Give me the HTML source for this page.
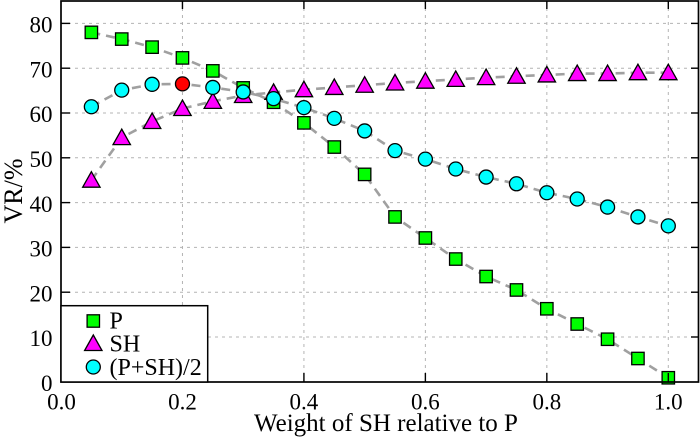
<!DOCTYPE html>
<html>
<head>
<meta charset="utf-8">
<style>
  html,body{margin:0;padding:0;background:#fff;}
  svg{display:block;}
  text{font-family:"Liberation Serif","Times New Roman",serif;fill:#000;}
</style>
</head>
<body>
<svg width="700" height="438" viewBox="0 0 700 438" xmlns="http://www.w3.org/2000/svg">
  <defs>
    <rect id="sq" x="-6.2" y="-6.2" width="12.4" height="12.4" fill="#00ff00" stroke="#000" stroke-width="1.3"/>
    <polygon id="tri" points="0,-8.5 -8.7,7 8.7,7" fill="#ff00ff" stroke="#000" stroke-width="1.3" stroke-linejoin="miter"/>
    <circle id="cir" r="7" fill="#00ffff" stroke="#000" stroke-width="1.3"/>
  </defs>

  <rect x="0" y="0" width="700" height="438" fill="#fff"/>

  <!-- grid -->
  <g stroke="#b4b4b4" stroke-width="1" stroke-dasharray="3,4" fill="none">
    <line x1="61" y1="337.0" x2="698.5" y2="337.0"/>
    <line x1="61" y1="292.2" x2="698.5" y2="292.2"/>
    <line x1="61" y1="247.4" x2="698.5" y2="247.4"/>
    <line x1="61" y1="202.6" x2="698.5" y2="202.6"/>
    <line x1="61" y1="157.8" x2="698.5" y2="157.8"/>
    <line x1="61" y1="113.0" x2="698.5" y2="113.0"/>
    <line x1="61" y1="68.2" x2="698.5" y2="68.2"/>
    <line x1="61" y1="23.4" x2="698.5" y2="23.4"/>
    <line x1="182.46" y1="1" x2="182.46" y2="382"/>
    <line x1="303.92" y1="1" x2="303.92" y2="382"/>
    <line x1="425.38" y1="1" x2="425.38" y2="382"/>
    <line x1="546.84" y1="1" x2="546.84" y2="382"/>
    <line x1="668.3" y1="1" x2="668.3" y2="382"/>
  </g>

  <!-- P series -->
  <polyline fill="none" stroke="#a0a0a0" stroke-width="2.6" stroke-dasharray="9,6"
    points="91.37,32.36 121.73,39.08 152.10,47.14 182.46,57.90 212.83,70.89 243.19,87.91 273.56,102.25 303.92,122.86 334.29,147.05 364.65,174.38 395.02,216.94 425.38,237.99 455.75,259.05 486.11,276.52 516.48,289.96 546.84,308.78 577.21,324.01 607.57,339.24 637.94,358.50 668.30,377.77"/>
  <g>
    <use href="#sq" x="91.37" y="32.36"/>
    <use href="#sq" x="121.73" y="39.08"/>
    <use href="#sq" x="152.10" y="47.14"/>
    <use href="#sq" x="182.46" y="57.90"/>
    <use href="#sq" x="212.83" y="70.89"/>
    <use href="#sq" x="243.19" y="87.91"/>
    <use href="#sq" x="273.56" y="102.25"/>
    <use href="#sq" x="303.92" y="122.86"/>
    <use href="#sq" x="334.29" y="147.05"/>
    <use href="#sq" x="364.65" y="174.38"/>
    <use href="#sq" x="395.02" y="216.94"/>
    <use href="#sq" x="425.38" y="237.99"/>
    <use href="#sq" x="455.75" y="259.05"/>
    <use href="#sq" x="486.11" y="276.52"/>
    <use href="#sq" x="516.48" y="289.96"/>
    <use href="#sq" x="546.84" y="308.78"/>
    <use href="#sq" x="577.21" y="324.01"/>
    <use href="#sq" x="607.57" y="339.24"/>
    <use href="#sq" x="637.94" y="358.50"/>
    <use href="#sq" x="668.30" y="377.77"/>
  </g>

  <!-- SH series -->
  <polyline fill="none" stroke="#a0a0a0" stroke-width="2.6" stroke-dasharray="9,6"
    points="91.37,180.2 121.73,137.64 152.10,121.51 182.46,108.52 212.83,101.35 243.19,95.53 273.56,92.39 303.92,89.70 334.29,87.46 364.65,85.22 395.02,82.98 425.38,81.19 455.75,79.40 486.11,77.61 516.48,76.26 546.84,74.92 577.21,73.58 607.57,73.58 637.94,72.68 668.30,72.68"/>
  <g>
    <use href="#tri" x="91.37" y="180.2"/>
    <use href="#tri" x="121.73" y="137.64"/>
    <use href="#tri" x="152.10" y="121.51"/>
    <use href="#tri" x="182.46" y="108.52"/>
    <use href="#tri" x="212.83" y="101.35"/>
    <use href="#tri" x="243.19" y="95.53"/>
    <use href="#tri" x="273.56" y="92.39"/>
    <use href="#tri" x="303.92" y="89.70"/>
    <use href="#tri" x="334.29" y="87.46"/>
    <use href="#tri" x="364.65" y="85.22"/>
    <use href="#tri" x="395.02" y="82.98"/>
    <use href="#tri" x="425.38" y="81.19"/>
    <use href="#tri" x="455.75" y="79.40"/>
    <use href="#tri" x="486.11" y="77.61"/>
    <use href="#tri" x="516.48" y="76.26"/>
    <use href="#tri" x="546.84" y="74.92"/>
    <use href="#tri" x="577.21" y="73.58"/>
    <use href="#tri" x="607.57" y="73.58"/>
    <use href="#tri" x="637.94" y="72.68"/>
    <use href="#tri" x="668.30" y="72.68"/>
  </g>

  <!-- (P+SH)/2 series -->
  <polyline fill="none" stroke="#a0a0a0" stroke-width="2.6" stroke-dasharray="9,6"
    points="91.37,106.73 121.73,90.15 152.10,84.33 182.46,83.88 212.83,87.46 243.19,91.94 273.56,98.66 303.92,107.62 334.29,118.38 364.65,130.92 395.02,150.63 425.38,159.14 455.75,169.0 486.11,177.06 516.48,183.78 546.84,192.74 577.21,199.02 607.57,207.08 637.94,216.94 668.30,225.9"/>
  <g>
    <use href="#cir" x="91.37" y="106.73"/>
    <use href="#cir" x="121.73" y="90.15"/>
    <use href="#cir" x="152.10" y="84.33"/>
    <circle cx="182.46" cy="83.88" r="7" fill="#ff0000" stroke="#000" stroke-width="1.3"/>
    <use href="#cir" x="212.83" y="87.46"/>
    <use href="#cir" x="243.19" y="91.94"/>
    <use href="#cir" x="273.56" y="98.66"/>
    <use href="#cir" x="303.92" y="107.62"/>
    <use href="#cir" x="334.29" y="118.38"/>
    <use href="#cir" x="364.65" y="130.92"/>
    <use href="#cir" x="395.02" y="150.63"/>
    <use href="#cir" x="425.38" y="159.14"/>
    <use href="#cir" x="455.75" y="169.0"/>
    <use href="#cir" x="486.11" y="177.06"/>
    <use href="#cir" x="516.48" y="183.78"/>
    <use href="#cir" x="546.84" y="192.74"/>
    <use href="#cir" x="577.21" y="199.02"/>
    <use href="#cir" x="607.57" y="207.08"/>
    <use href="#cir" x="637.94" y="216.94"/>
    <use href="#cir" x="668.30" y="225.9"/>
  </g>

  <!-- ticks -->
  <g stroke="#000" stroke-width="1.4">
    <line x1="61" y1="381.8" x2="70" y2="381.8"/>
    <line x1="61" y1="337.0" x2="70" y2="337.0"/>
    <line x1="61" y1="292.2" x2="70" y2="292.2"/>
    <line x1="61" y1="247.4" x2="70" y2="247.4"/>
    <line x1="61" y1="202.6" x2="70" y2="202.6"/>
    <line x1="61" y1="157.8" x2="70" y2="157.8"/>
    <line x1="61" y1="113.0" x2="70" y2="113.0"/>
    <line x1="61" y1="68.2" x2="70" y2="68.2"/>
    <line x1="61" y1="23.4" x2="70" y2="23.4"/>
    <line x1="698.5" y1="337.0" x2="691" y2="337.0"/>
    <line x1="698.5" y1="292.2" x2="691" y2="292.2"/>
    <line x1="698.5" y1="247.4" x2="691" y2="247.4"/>
    <line x1="698.5" y1="202.6" x2="691" y2="202.6"/>
    <line x1="698.5" y1="157.8" x2="691" y2="157.8"/>
    <line x1="698.5" y1="113.0" x2="691" y2="113.0"/>
    <line x1="698.5" y1="68.2" x2="691" y2="68.2"/>
    <line x1="698.5" y1="23.4" x2="691" y2="23.4"/>
    <line x1="182.46" y1="382" x2="182.46" y2="373"/>
    <line x1="303.92" y1="382" x2="303.92" y2="373"/>
    <line x1="425.38" y1="382" x2="425.38" y2="373"/>
    <line x1="546.84" y1="382" x2="546.84" y2="373"/>
    <line x1="668.3" y1="382" x2="668.3" y2="373"/>
    <line x1="182.46" y1="1" x2="182.46" y2="9"/>
    <line x1="303.92" y1="1" x2="303.92" y2="9"/>
    <line x1="425.38" y1="1" x2="425.38" y2="9"/>
    <line x1="546.84" y1="1" x2="546.84" y2="9"/>
    <line x1="668.3" y1="1" x2="668.3" y2="9"/>
  </g>

  <!-- frame -->
  <rect x="61" y="1" width="637.5" height="381" fill="none" stroke="#000" stroke-width="1.7"/>

  <!-- legend -->
  <rect x="61" y="305.7" width="146.7" height="76.3" fill="#fff" stroke="#000" stroke-width="1.5"/>
  <use href="#sq" x="93.3" y="321"/>
  <use href="#tri" x="93.3" y="343.5"/>
  <use href="#cir" x="93.3" y="367"/>
  <g font-size="24">
    <text x="109.5" y="328.5">P</text>
    <text x="109.5" y="351.5">SH</text>
    <text x="109.5" y="375">(P+SH)/2</text>
  </g>

  <!-- y tick labels -->
  <g font-size="23" text-anchor="end">
    <text x="52.5" y="391">0</text>
    <text x="52.5" y="346.2">10</text>
    <text x="52.5" y="301.4">20</text>
    <text x="52.5" y="256.6">30</text>
    <text x="52.5" y="211.8">40</text>
    <text x="52.5" y="167.0">50</text>
    <text x="52.5" y="122.2">60</text>
    <text x="52.5" y="77.4">70</text>
    <text x="52.5" y="32.6">80</text>
  </g>

  <!-- x tick labels -->
  <g font-size="23" text-anchor="middle">
    <text x="61.5" y="409.5">0.0</text>
    <text x="182.46" y="409.5">0.2</text>
    <text x="303.92" y="409.5">0.4</text>
    <text x="425.38" y="409.5">0.6</text>
    <text x="546.84" y="409.5">0.8</text>
    <text x="668.3" y="409.5">1.0</text>
  </g>

  <!-- axis labels -->
  <text x="386" y="431" font-size="25" text-anchor="middle">Weight of SH relative to P</text>
  <text transform="translate(22,191) rotate(-90)" font-size="26" text-anchor="middle">VR/%</text>
</svg>
</body>
</html>
